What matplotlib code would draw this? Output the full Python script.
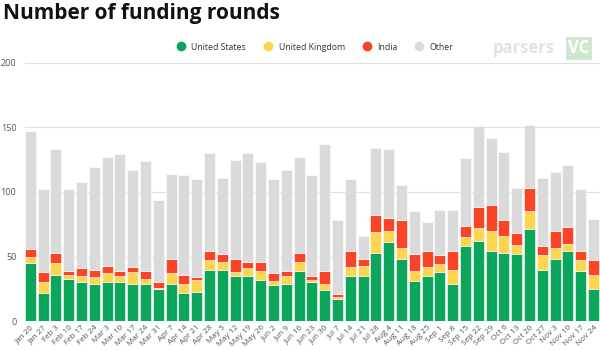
import matplotlib
matplotlib.use("Agg")
import matplotlib.pyplot as plt
import numpy as np
from matplotlib.lines import Line2D

weeks = ["Jan 20", "Jan 27", "Feb 3", "Feb 10", "Feb 17", "Feb 24", "Mar 3", "Mar 10",
         "Mar 17", "Mar 24", "Mar 31", "Apr 7", "Apr 14", "Apr 21", "Apr 28", "May 5",
         "May 12", "May 19", "May 26", "Jun 2", "Jun 9", "Jun 16", "Jun 23", "Jun 30",
         "Jul 7", "Jul 14", "Jul 21", "Jul 28", "Aug 4", "Aug 11", "Aug 18", "Aug 25",
         "Sep 1", "Sep 8", "Sep 15", "Sep 22", "Sep 29", "Oct 6", "Oct 13", "Oct 20",
         "Oct 27", "Nov 3", "Nov 10", "Nov 17", "Nov 24"]

united_states = [45, 22, 36, 33, 30, 29, 30, 30, 29, 29, 25, 29, 22, 23, 40, 40,
                 35, 35, 32, 28, 29, 39, 30, 24, 17, 35, 35, 53, 61, 48, 31, 35,
                 38, 29, 58, 62, 54, 53, 52, 71, 40, 48, 54, 39, 25]
united_kingdom = [5, 8, 9, 3, 5, 5, 7, 5, 9, 4, 1, 8, 7, 9, 7, 6,
                  3, 6, 7, 3, 6, 7, 2, 5, 2, 7, 8, 16, 9, 9, 8, 7,
                  6, 11, 7, 10, 16, 13, 7, 14, 11, 9, 6, 8, 11]
india = [6, 8, 8, 3, 6, 6, 6, 4, 4, 6, 4, 11, 7, 2, 7, 6,
         10, 5, 7, 6, 4, 7, 3, 10, 2, 12, 5, 13, 10, 21, 13, 12,
         7, 14, 9, 16, 20, 12, 9, 18, 7, 13, 13, 7, 11]
other = [91, 64, 80, 63, 67, 79, 84, 90, 75, 85, 64, 66, 77, 76, 76, 59,
         77, 84, 77, 73, 78, 74, 78, 98, 57, 56, 18, 52, 53, 27, 33, 23,
         35, 32, 52, 63, 52, 53, 35, 49, 53, 45, 48, 48, 32]

series = [("United States", united_states, "#0BA65C"),
          ("United Kingdom", united_kingdom, "#FDD550"),
          ("India", india, "#F94428"),
          ("Other", other, "#DADADA")]

plt.rcParams['font.family'] = ['Open Sans', 'DejaVu Sans']

fig = plt.figure(figsize=(6, 3.5), dpi=100)
ax = fig.add_axes([24.7 / 600, 28.7 / 350, 575.3 / 600, 258.8 / 350])

x = np.arange(len(weeks))
bottom = np.zeros(len(weeks))
for name, vals, col in series:
    v = np.array(vals, dtype=float)
    ax.bar(x, v, bottom=bottom, width=0.86, color=col, edgecolor="white",
           linewidth=0.4, zorder=3)
    bottom += v

ax.set_xlim(-0.43, len(weeks) - 0.5)
ax.set_ylim(0, 200)
ax.set_yticks([0, 50, 100, 150, 200])
ax.yaxis.grid(True, color="#e0e0e0", linewidth=0.8, zorder=0)
ax.set_axisbelow(True)
for s in ax.spines.values():
    s.set_visible(False)
ax.tick_params(axis="y", length=0, labelsize=6.5, labelcolor="#555555", pad=6)
ax.set_xticks(x)
ax.set_xticklabels(weeks, rotation=45, ha="right", rotation_mode="anchor",
                   fontsize=5.8, color="#555555")
ax.tick_params(axis="x", length=0, pad=2)

fig.text(0.005, 1 - 19 / 350, "Number of funding rounds", fontsize=15, fontweight="bold",
         color="#111111", ha="left", va="baseline")

handles = [Line2D([0], [0], marker="o", linestyle="", markersize=6,
                  markerfacecolor=c, markeredgecolor=c) for _, _, c in series]
labels = [n for n, _, _ in series]
fig.legend(handles, labels, loc="center", bbox_to_anchor=(313 / 600, 1 - 47 / 350),
           ncol=4, frameon=False, fontsize=6.3, handletextpad=0.2, columnspacing=1.5,
           labelcolor="#333333")

# watermark
fig.text(493 / 600, 1 - 48 / 350, "parsers", fontsize=12, color="#e2e2e2",
         ha="left", va="center", fontweight="bold")
fig.text(568 / 600, 1 - 48 / 350, "VC", fontsize=12, color="white", ha="left",
         va="center", fontweight="bold",
         bbox=dict(boxstyle="square,pad=0.15", facecolor="#cfe6cf", edgecolor="none"))

fig.savefig("out.png", dpi=100)
